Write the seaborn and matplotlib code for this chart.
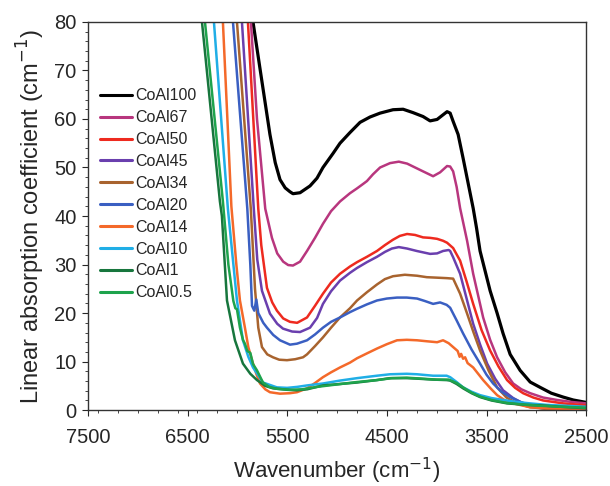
import matplotlib
matplotlib.use("Agg")
import matplotlib.pyplot as plt
import pandas as pd
import seaborn as sns
from matplotlib.ticker import MultipleLocator

# Values (wavenumber in cm-1, absorption in cm-1)
coal100_x = [5870, 5843, 5773, 5673, 5620, 5572, 5520, 5472, 5442, 5371, 5271, 5201, 5141, 5040,
             4970, 4870, 4769, 4669, 4568, 4438, 4337, 4237, 4137, 4066, 3996, 3896, 3865, 3835,
             3785, 3735, 3634, 3600, 3565, 3464, 3394, 3334, 3263, 3163, 3062, 2962, 2850, 2731,
             2630, 2500]
coal100_y = [85, 80, 70.4, 56.8, 51, 47.5, 45.8, 45, 44.6, 44.8, 46.2, 47.8, 50, 52.9,
             55, 57.2, 59.3, 60.4, 61.2, 61.9, 62, 61.3, 60.5, 59.6, 59.9, 61.5, 61.2, 59.5,
             56.8, 51.9, 41.6, 37.5, 32.8, 24.6, 20, 15.8, 11.5, 8.2, 5.8, 4.7, 3.5, 2.7,
             2.1, 1.6]

coal67_x = [5890, 5864, 5803, 5720, 5653, 5600, 5540, 5490, 5442, 5371, 5301, 5221, 5141, 5060,
            4970, 4870, 4799, 4739, 4700, 4639, 4568, 4468, 4380, 4297, 4217, 4137, 4036, 3966,
            3896, 3865, 3835, 3800, 3765, 3695, 3634, 3534, 3464, 3394, 3313, 3233, 3150, 3062,
            2932, 2791, 2650, 2500]
coal67_y = [85, 80, 60, 41.5, 35.5, 32.3, 30.6, 29.9, 29.8, 30.6, 32.8, 35.5, 38.4, 41,
            43, 44.7, 45.7, 46.6, 47.2, 48.6, 50, 50.9, 51.2, 50.8, 50, 49.2, 48.2, 49,
            50.3, 50.2, 49.2, 46, 41.6, 34.9, 28.1, 19.1, 14.5, 10.9, 7.8, 5.5, 4.3, 3.5,
            2.6, 2.1, 1.7, 1.4]

coal50_x = [5920, 5894, 5790, 5760, 5703, 5650, 5603, 5540, 5472, 5400, 5301, 5221, 5141, 5060,
            4970, 4870, 4799, 4700, 4599, 4520, 4440, 4370, 4297, 4217, 4137, 4066, 3996, 3936,
            3896, 3835, 3765, 3700, 3634, 3550, 3464, 3380, 3294, 3213, 3133, 3030, 2932, 2730,
            2500]
coal50_y = [85, 80, 41.5, 34, 25.2, 22.2, 20.5, 18.9, 18.2, 18, 19.1, 21.5, 24, 26.3,
            28.1, 29.6, 30.5, 31.6, 32.8, 34, 35.1, 35.9, 36.3, 36.1, 35.6, 35.5, 35.3, 34.9,
            34.5, 33.4, 30.8, 26.5, 21.9, 16.5, 12.3, 9, 6.2, 4.6, 3.5, 2.6, 2, 1.4,
            1]

coal45_x = [5980, 5954, 5835, 5800, 5753, 5673, 5600, 5542, 5450, 5371, 5271, 5200, 5141, 5060,
            4970, 4870, 4799, 4700, 4599, 4520, 4450, 4380, 4297, 4200, 4066, 3996, 3936, 3880,
            3865, 3835, 3765, 3700, 3634, 3564, 3494, 3414, 3334, 3233, 3133, 3000, 2892, 2700,
            2500]
coal45_y = [85, 80, 41.5, 31, 24.6, 19.9, 17.8, 16.8, 16.2, 16.1, 17, 19, 21.9, 24.5,
            26.7, 28.3, 29.3, 30.5, 31.6, 32.6, 33.3, 33.6, 33.3, 32.8, 32.2, 32.3, 32.8, 33,
            32.8, 31.5, 28.1, 23, 17.8, 13.5, 9.6, 6.5, 4.1, 2.5, 1.4, 0.6, 0.2, 0.1,
            0.1]

coal34_x = [6030, 6004, 5865, 5823, 5790, 5753, 5700, 5643, 5580, 5502, 5420, 5341, 5301, 5221,
            5141, 5060, 4970, 4870, 4799, 4700, 4599, 4520, 4438, 4320, 4197, 4100, 3996, 3896,
            3835, 3765, 3695, 3630, 3565, 3480, 3394, 3300, 3193, 3062, 2900, 2700, 2500]
coal34_y = [85, 80, 41.5, 25, 17, 13, 11.5, 10.9, 10.4, 10.3, 10.5, 10.9, 11.5, 13.2,
            15, 17, 19.1, 21, 22.6, 24.3, 25.9, 27, 27.6, 27.9, 27.7, 27.4, 27.3, 27.2,
            27.1, 24, 19.9, 16, 12.3, 8.2, 4.7, 2.6, 1.4, 0.6, 0.3, 0.2, 0.2]

coal20_x = [6070, 6044, 5900, 5870, 5853, 5830, 5810, 5790, 5740, 5703, 5640, 5572, 5472, 5402,
            5301, 5221, 5141, 5060, 4970, 4870, 4799, 4700, 4599, 4500, 4398, 4300, 4197, 4120,
            4036, 3966, 3900, 3865, 3800, 3735, 3650, 3565, 3500, 3434, 3350, 3263, 3160, 3062,
            2900, 2700, 2500]
coal20_y = [85, 80, 41.5, 30, 21.5, 20.5, 22.8, 20, 18, 17, 15.5, 14.4, 13.5, 13.7,
            14.4, 15.6, 17, 18.2, 19.1, 20.2, 20.9, 21.8, 22.6, 23, 23.2, 23.2, 23, 22.5,
            21.9, 22.2, 21.7, 21.1, 18.5, 15.8, 12.5, 9.6, 7.3, 5.5, 3.8, 2.7, 1.7, 1,
            0.7, 0.5, 0.4]

coal14_x = [6170, 6145, 6100, 6060, 6010, 5974, 5924, 5890, 5853, 5810, 5773, 5720, 5673, 5572,
            5472, 5402, 5301, 5221, 5141, 5060, 4970, 4870, 4799, 4700, 4599, 4500, 4398, 4300,
            4197, 4100, 3996, 3936, 3880, 3835, 3790, 3770, 3755, 3735, 3715, 3690, 3634, 3534,
            3460, 3394, 3313, 3233, 3062, 2900, 2700, 2500]
coal14_y = [85, 80, 60, 42, 30, 22.6, 17, 13, 10.3, 7.5, 5.5, 4.3, 3.7, 3.4,
            3.5, 3.7, 4.5, 5.6, 6.8, 7.8, 8.8, 9.8, 10.7, 11.7, 12.7, 13.6, 14.4, 14.5,
            14.4, 14.2, 14, 14.4, 13.8, 13, 12.2, 11, 11.6, 10.6, 10.9, 9.7, 8.8, 6.2,
            4.5, 3.1, 2, 1.4, 0.6, 0.4, 0.3, 0.3]

coal10_x = [6260, 6235, 6095, 6004, 5944, 5890, 5843, 5743, 5603, 5500, 5400, 5300, 5141, 4970,
            4799, 4600, 4468, 4300, 4197, 4036, 3900, 3865, 3800, 3735, 3650, 3565, 3450, 3334,
            3200, 3062, 2900, 2700, 2500]
coal10_y = [85, 80, 41.5, 22.6, 14.4, 11, 8.8, 5.7, 4.7, 4.6, 4.8, 5.1, 5.5, 6.1,
            6.6, 7.1, 7.4, 7.5, 7.4, 7.1, 7.1, 6.8, 5.8, 4.7, 3.8, 3.1, 2.5, 2.1,
            1.7, 1.4, 1.1, 0.9, 0.7]

coal1_x = [6380, 6355, 6175, 6155, 6104, 6024, 5944, 5870, 5803, 5720, 5643, 5500, 5402, 5300,
           5141, 4970, 4799, 4600, 4468, 4300, 4197, 4036, 3900, 3865, 3800, 3735, 3650, 3565,
           3450, 3294, 3100, 2962, 2750, 2500]
coal1_y = [85, 80, 43, 40, 22.6, 14.4, 9.6, 7.5, 6.2, 5, 4.5, 4.2, 4.1, 4.3,
           5.1, 5.4, 5.7, 6.2, 6.6, 6.6, 6.5, 6.3, 6.2, 6.1, 5.4, 4.5, 3.5, 2.7,
           2, 1.4, 1.1, 1, 0.7, 0.4]

coal05_x = [6350, 6325, 6145, 6090, 6040, 6020, 6004, 5974, 5944, 5924, 5900, 5870, 5843, 5803,
            5743, 5680, 5600, 5472, 5350, 5200, 5000, 4800, 4600, 4450, 4300, 4150, 4000, 3880,
            3800, 3735, 3650, 3565, 3450, 3300, 3100, 2950, 2750, 2500]
coal05_y = [85, 80, 43, 30, 22.5, 21, 20.8, 17, 14.5, 13.7, 12.2, 11.8, 9.5, 8.2,
            5.7, 4.8, 4.4, 4.2, 4.3, 4.8, 5.3, 5.8, 6.2, 6.6, 6.7, 6.5, 6.3, 6.3,
            5.6, 4.7, 3.6, 2.8, 2.1, 1.5, 1.1, 0.9, 0.7, 0.5]

samples = ["CoAl100", "CoAl67", "CoAl50", "CoAl45", "CoAl34",
           "CoAl20", "CoAl14", "CoAl10", "CoAl1", "CoAl0.5"]
series = [(coal100_x, coal100_y), (coal67_x, coal67_y), (coal50_x, coal50_y),
          (coal45_x, coal45_y), (coal34_x, coal34_y), (coal20_x, coal20_y),
          (coal14_x, coal14_y), (coal10_x, coal10_y), (coal1_x, coal1_y),
          (coal05_x, coal05_y)]
colors = ["#000000", "#b8367e", "#ee2a1f", "#6a3fae", "#a8632e",
          "#3a5fc2", "#f4692a", "#20aee6", "#17763d", "#1ea34c"]

xtick_values = [7500, 6500, 5500, 4500, 3500, 2500]

frames = []
for name, (xs, ys) in zip(samples, series):
    frames.append(pd.DataFrame({"wavenumber": xs, "absorption": ys, "sample": name}))
df = pd.concat(frames, ignore_index=True)

sns.set_style("white")
plt.rcParams["font.family"] = ["Liberation Sans", "DejaVu Sans"]

fig = plt.figure(figsize=(6.1, 4.86), dpi=100)
ax = fig.add_axes([0.144, 0.156, 0.817, 0.799])

sns.lineplot(data=df, x="wavenumber", y="absorption", hue="sample",
             hue_order=samples, palette=dict(zip(samples, colors)),
             estimator=None, sort=False, linewidth=1.8, ax=ax)
ax.lines[0].set_linewidth(2.3)

ax.set_xlim(7500, 2500)
ax.set_ylim(0, 80)
ax.set_xticks(xtick_values)
ax.set_xticklabels([str(v) for v in xtick_values])
ax.xaxis.set_minor_locator(MultipleLocator(200))
ax.yaxis.set_major_locator(MultipleLocator(10))
ax.yaxis.set_minor_locator(MultipleLocator(2))
ax.tick_params(axis="both", which="major", direction="out", length=4, width=0.8,
               labelsize=14.5, bottom=True, left=True)
ax.tick_params(axis="x", which="major", pad=9)
ax.tick_params(axis="y", which="major", pad=4)
ax.tick_params(axis="both", which="minor", direction="out", length=2.5, width=0.6,
               bottom=True, left=True)
for sp in ax.spines.values():
    sp.set_color("#333333")
    sp.set_linewidth(1.0)

ax.set_xlabel("Wavenumber (cm$^{-1}$)", fontsize=16, labelpad=6)
ax.set_ylabel("Linear absorption coefficient (cm$^{-1}$)", fontsize=17, labelpad=5)

leg = ax.legend(loc="upper left", bbox_to_anchor=(0.012, 0.845), frameon=False,
                fontsize=11.5, handlelength=2.0, handletextpad=0.2,
                labelspacing=0.43, borderaxespad=0.0)
for h in leg.get_lines():
    h.set_linewidth(2.2)

fig.savefig("out.png", dpi=100)
